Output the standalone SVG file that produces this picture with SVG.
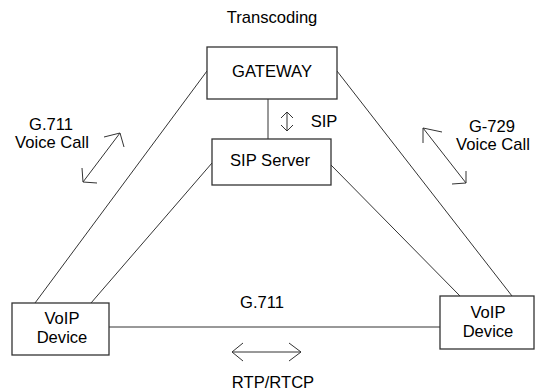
<svg xmlns="http://www.w3.org/2000/svg" width="535" height="392" viewBox="0 0 535 392">
<style>
text{font-family:"Liberation Sans",Arial,sans-serif;font-size:16.6px;fill:#000;text-anchor:middle}
.box{fill:#fff;stroke:#333;stroke-width:1.3}
.ln{stroke:#333;stroke-width:1;fill:none}
.ar{stroke:#333;stroke-width:1;fill:none}
</style>
<rect width="535" height="392" fill="#fff"/>
<g id="connectors">
<line class="ln" x1="207" y1="71" x2="35" y2="303"/>
<line class="ln" x1="212" y1="163" x2="91" y2="303"/>
<line class="ln" x1="337" y1="71" x2="512" y2="296"/>
<line class="ln" x1="331" y1="165" x2="460" y2="296"/>
<line class="ln" x1="268" y1="99" x2="268" y2="139"/>
<line class="ln" x1="109" y1="327" x2="440" y2="327"/>
</g>
<g id="arrows">
<path class="ar" d="M120,133 L83,182 M104,137 L120,133 L124,147 M82,168 L83,182 L97,183"/>
<path class="ar" d="M423,128 L466,183 M442,132 L423,128 L423,143 M466,171 L466,183 L452,184"/>
<path class="ar" d="M232,352 L301,352 M243,343 L232,352 L243,361 M289,343 L301,352 L289,361"/>
<path class="ar" d="M287,112 L287,131 M281,118 L287,112 L293,118 M281,125 L287,131 L293,125"/>
</g>
<g id="gateway">
<rect class="box" x="207" y="47" width="130" height="52"/>
<text x="272" y="77">GATEWAY</text>
</g>
<g id="sipserver">
<rect class="box" x="212" y="139" width="119" height="46"/>
<text x="270" y="166">SIP Server</text>
</g>
<g id="voip-left">
<rect class="box" x="12" y="303" width="97" height="52"/>
<text x="62" y="324">VoIP</text>
<text x="62" y="343">Device</text>
</g>
<g id="voip-right">
<rect class="box" x="440" y="296" width="94" height="53"/>
<text x="488" y="318">VoIP</text>
<text x="488" y="337">Device</text>
</g>
<g id="labels">
<text x="272" y="23">Transcoding</text>
<text x="324" y="127">SIP</text>
<text x="51" y="130">G.711</text>
<text x="52" y="148">Voice Call</text>
<text x="492" y="132">G-729</text>
<text x="493" y="150">Voice Call</text>
<text x="262" y="308">G.711</text>
<text x="273" y="388">RTP/RTCP</text>
</g>
</svg>
